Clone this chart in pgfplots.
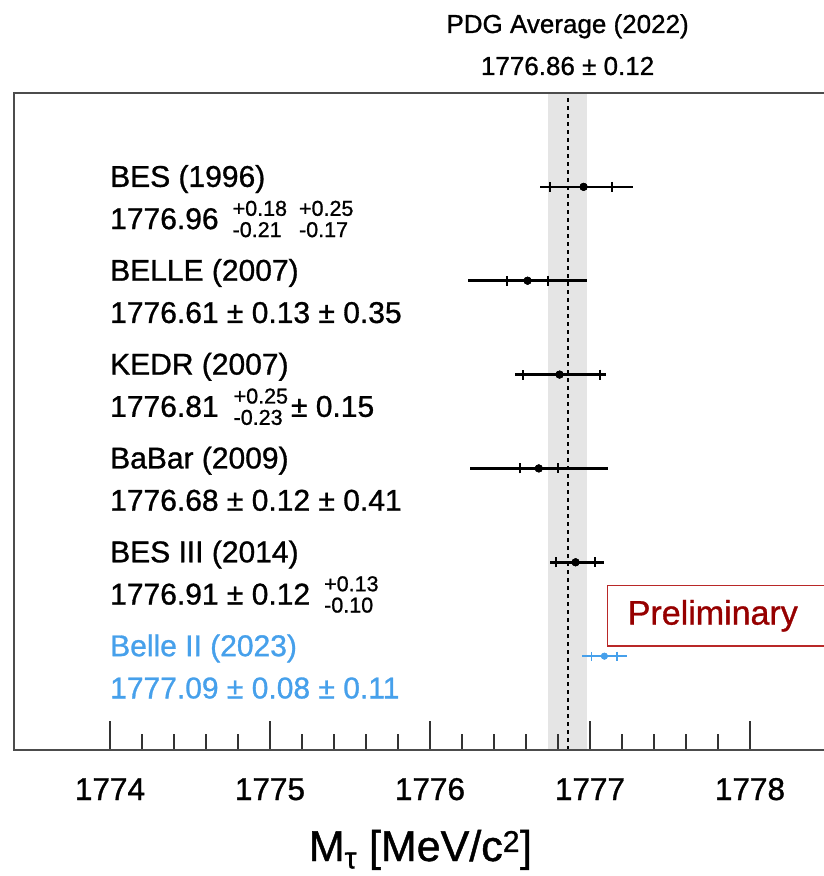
\documentclass[border=0pt]{standalone}
\usepackage{pgfplots}
\pgfplotsset{compat=1.18}
\usepackage{pgfplotstable}
\usepackage{fontspec}
\setmainfont{Liberation Sans}[FakeBold=1.0]
\definecolor{bl}{RGB}{70,160,235}
\definecolor{prelim}{RGB}{150,0,0}
\definecolor{prelimbox}{RGB}{185,40,40}

% x: central value, y: row; tp/tm: total error (+/-); sp/sm: statistical error (+/-)
\pgfplotstableread{
x y tp tm sp sm
1776.96 6 0.31 0.27 0.18 0.21
1776.61 5 0.37 0.37 0.13 0.13
1776.81 4 0.29 0.28 0.25 0.23
1776.68 3 0.43 0.43 0.12 0.12
1776.91 2 0.18 0.16 0.12 0.12
}\blk
\pgfplotstableread{
x y tp tm sp sm
1777.09 1 0.14 0.14 0.08 0.08
}\blt

\newcommand{\asym}[2]{\raisebox{-8pt}{\fontsize{21.5}{21}\selectfont\begin{tabular}[b]{@{}l@{}}#1\\#2\end{tabular}}}

\begin{document}
\begin{tikzpicture}
\begin{axis}[
  name=ax,
  scale only axis, width=832pt, height=657pt,
  xmin=1773.4, xmax=1778.6, ymin=0, ymax=7,
  axis on top, clip=false,
  ytick=\empty,
  xtick={1774,1775,1776,1777,1778},
  minor x tick num=4,
  xtick pos=left,
  tick align=inside,
  major tick length=29pt, minor tick length=16pt,
  tick style={line width=1.2pt, black!80},
  axis line style={line width=1.6pt, black!70},
  xticklabel style={font=\fontsize{31.5}{36}\selectfont, anchor=base, yshift=-50pt},
  /pgf/number format/.cd, set thousands separator={}, assume math mode=true,
]
% PDG band and central value
\addplot[fill=gray!20, draw=none] coordinates {(1776.74,0) (1776.98,0) (1776.98,7) (1776.74,7)} -- cycle;
\addplot[black, dash pattern=on 4pt off 4pt, line width=1.8pt] coordinates {(1776.86,0) (1776.86,7)};

% black measurements: total errors
\addplot[only marks, mark=*, mark size=3.8pt, black,
  error bars/.cd, x dir=both, x explicit, error mark=none,
  error bar style={line width=2.5pt, black}]
  table[x=x, y=y, x error plus=tp, x error minus=tm]{\blk};
% statistical errors with tick ends
\addplot[only marks, mark=*, mark size=3.8pt, black,
  error bars/.cd, x dir=both, x explicit, error mark=|,
  error bar style={line width=2.5pt, black},
  error mark options={line width=2pt, mark size=5pt, black}]
  table[x=x, y=y, x error plus=sp, x error minus=sm]{\blk};

% Belle II
\addplot[only marks, mark=*, mark size=3.2pt, bl,
  error bars/.cd, x dir=both, x explicit, error mark=none,
  error bar style={line width=2.2pt, bl}]
  table[x=x, y=y, x error plus=tp, x error minus=tm]{\blt};
\addplot[only marks, mark=*, mark size=3.2pt, bl,
  error bars/.cd, x dir=both, x explicit, error mark=|,
  error bar style={line width=2.2pt, bl},
  error mark options={line width=1.6pt, mark size=4.5pt, bl}]
  table[x=x, y=y, x error plus=sp, x error minus=sm]{\blt};

% labels
\begin{scope}[every node/.style={anchor=base west, inner sep=0pt, font=\fontsize{30}{36}\selectfont}]
\node at (axis cs:1774,6) {BES (1996)};
\node at (axis cs:1774,5.55) {1776.96\hspace{14pt}\asym{+0.18}{-0.21}\hspace{12pt}\asym{+0.25}{-0.17}};
\node at (axis cs:1774,5) {BELLE (2007)};
\node at (axis cs:1774,4.55) {1776.61 ± 0.13 ± 0.35};
\node at (axis cs:1774,4) {KEDR (2007)};
\node at (axis cs:1774,3.55) {1776.81\hspace{15pt}\asym{+0.25}{-0.23}\hspace{3pt}± 0.15};
\node at (axis cs:1774,3) {BaBar (2009)};
\node at (axis cs:1774,2.55) {1776.68 ± 0.12 ± 0.41};
\node at (axis cs:1774,2) {BES III (2014)};
\node at (axis cs:1774,1.55) {1776.91 ± 0.12\hspace{14pt}\asym{+0.13}{-0.10}};
\node[text=bl] at (axis cs:1774,1) {Belle II (2023)};
\node[text=bl] at (axis cs:1774,0.55) {1777.09 ± 0.08 ± 0.11};
\end{scope}

% PDG header
\node[anchor=base, font=\fontsize{26}{30}\selectfont, yshift=60pt] at (axis cs:1776.86,7) {PDG Average (2022)};
\node[anchor=base, font=\fontsize{26}{30}\selectfont, yshift=18pt] at (axis cs:1776.86,7) {1776.86 ± 0.12};

% x label
\node[anchor=base, font=\fontsize{43}{50}\selectfont, yshift=-111pt] at (axis cs:1775.94,0) {M\textsubscript{τ} [MeV/c\textsuperscript{2}]};

% Preliminary box
\draw[prelimbox, line width=1.5pt] (axis cs:1777.11,1.106) rectangle (axis cs:1779.2,1.755);
\node[anchor=west, text=prelim, font=\fontsize{34}{40}\selectfont, inner sep=0pt] at (axis cs:1777.235,1.43) {Preliminary};
\end{axis}
\pgfresetboundingbox
\path[use as bounding box] ([xshift=-14pt,yshift=-126pt]ax.south west) rectangle ([xshift=809pt,yshift=750pt]ax.south west);
\end{tikzpicture}
\end{document}
